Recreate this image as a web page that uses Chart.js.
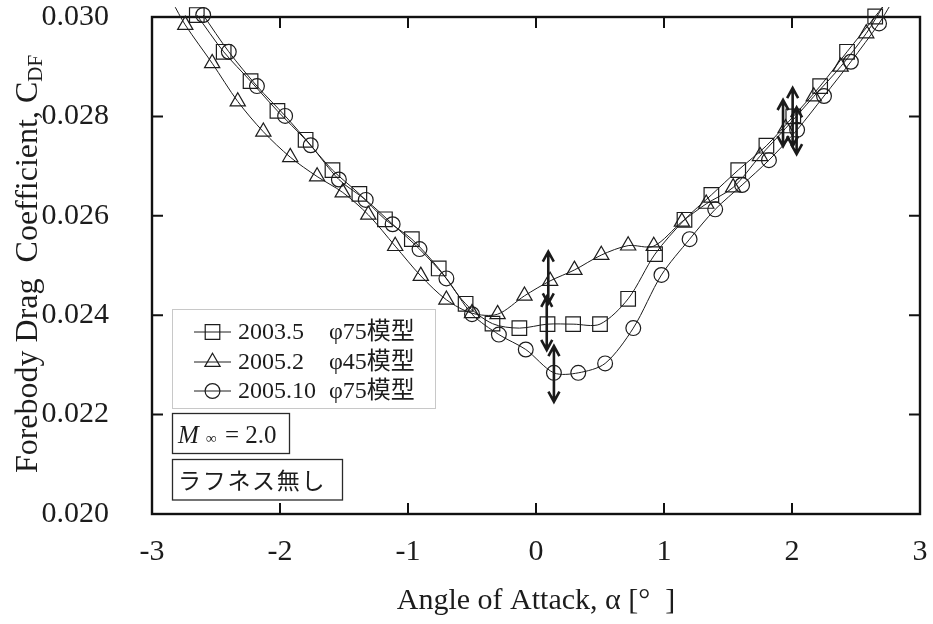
<!DOCTYPE html>
<html>
<head>
<meta charset="utf-8">
<script src="https://cdn.jsdelivr.net/npm/chart.js@4.4.1/dist/chart.umd.min.js"></script>
<style>
  html, body { margin: 0; padding: 0; background: #ffffff; }
  #wrap { width: 933px; height: 624px; }
</style>
</head>
<body>
<div id="wrap"><canvas id="cdf" width="933" height="624"></canvas></div>
<script>
// Forebody drag coefficient vs. angle of attack, M∞ = 2.0, smooth model (no roughness)

// 2003.5 campaign, φ75 model
const alpha2003 = [-2.65, -2.44, -2.23, -2.02, -1.80, -1.59, -1.38, -1.18, -0.97, -0.76, -0.55, -0.34, -0.13,
                   0.09, 0.29, 0.50, 0.72, 0.93, 1.16, 1.37, 1.58, 1.80, 2.01, 2.22, 2.43, 2.65, 2.75];
const cdf2003   = [0.03004, 0.02930, 0.02871, 0.02811, 0.02753, 0.02692, 0.02644, 0.02593, 0.02553, 0.02494, 0.02423, 0.02383, 0.02374,
                   0.02382, 0.02382, 0.02382, 0.02433, 0.02523, 0.02592, 0.02642, 0.02692, 0.02741, 0.02800, 0.02861, 0.02930, 0.03001, 0.03035];

// 2005.2 campaign, φ45 model
const alpha2005a = [-2.84, -2.74, -2.53, -2.33, -2.13, -1.92, -1.71, -1.51, -1.31, -1.10, -0.90, -0.70, -0.50, -0.30,
                    -0.09, 0.11, 0.30, 0.51, 0.72, 0.92, 1.14, 1.33, 1.54, 1.75, 1.95, 2.17, 2.38, 2.58, 2.72];
const cdf2005a   = [0.03030, 0.02984, 0.02907, 0.02830, 0.02769, 0.02718, 0.02679, 0.02647, 0.02602, 0.02539, 0.02479, 0.02431, 0.02404, 0.02402,
                    0.02439, 0.02469, 0.02491, 0.02521, 0.02540, 0.02539, 0.02588, 0.02624, 0.02657, 0.02720, 0.02776, 0.02840, 0.02900, 0.02967, 0.03025];

// 2005.10 campaign, φ75 model
const alpha2005b = [-2.60, -2.40, -2.18, -1.96, -1.76, -1.54, -1.33, -1.12, -0.91, -0.70, -0.50, -0.29, -0.08,
                    0.14, 0.33, 0.54, 0.76, 0.98, 1.20, 1.40, 1.61, 1.82, 2.04, 2.25, 2.46, 2.68, 2.77];
const cdf2005b   = [0.03004, 0.02930, 0.02861, 0.02801, 0.02742, 0.02673, 0.02632, 0.02583, 0.02533, 0.02474, 0.02402, 0.02361, 0.02331,
                    0.02284, 0.02284, 0.02303, 0.02374, 0.02481, 0.02553, 0.02613, 0.02662, 0.02712, 0.02773, 0.02841, 0.02910, 0.02987, 0.03025];

// Repeatability ranges (double arrows): angle, lower and upper CDF
const errAlpha = [0.096, 0.084, 0.140, 2.005, 1.930, 2.036];
const errLow   = [0.02424, 0.02330, 0.02226, 0.02740, 0.02740, 0.02724];
const errHigh  = [0.02528, 0.02437, 0.02338, 0.02857, 0.02833, 0.02818];

// Axes
const xTickValues = [-3, -2, -1, 0, 1, 2, 3];
const xTickLabels = ['-3', '-2', '-1', '0', '1', '2', '3'];
const yTickValues = [0.020, 0.022, 0.024, 0.026, 0.028, 0.030];
const yTickLabels = ['0.020', '0.022', '0.024', '0.026', '0.028', '0.030'];

// Legend and notes
const seriesNames  = ['2003.5', '2005.2', '2005.10'];
const seriesModels = ['φ75模型', 'φ45模型', 'φ75模型'];
const machNote = '= 2.0';
const roughNote = 'ラフネス無し';

const X_MIN = -3, X_MAX = 3, Y_MIN = 0.020, Y_MAX = 0.030;
const INK = '#1c1c1c';
const SERIF = '"Liberation Serif", "Times New Roman", serif';
const MIXED = '"Liberation Serif", "Noto Sans CJK JP", serif';
const CJK = '"Noto Sans CJK JP", sans-serif';

const markers = [
  { style: 'rect', radius: 10.3 },
  { style: 'triangle', radius: 8.8 },
  { style: 'circle', radius: 7.4 }
];

function toPoints(xs, ys) { return xs.map((x, i) => ({ x: x, y: ys[i] })); }

function makeSeries(label, xs, ys, m) {
  return {
    label: label,
    data: toPoints(xs, ys),
    borderColor: INK,
    borderWidth: 1,
    tension: 0.3,
    fill: false,
    pointStyle: m.style,
    // points lying past the top of the axis only steer the curve and carry no marker
    pointRadius: c => (c.raw && c.raw.y > Y_MAX + 0.0001 ? 0 : m.radius),
    pointBorderColor: INK,
    pointBorderWidth: 1.2,
    pointBackgroundColor: 'rgba(0,0,0,0)',
    clip: { left: 0, top: 10, right: 0, bottom: 0 }
  };
}

// Plot frame with inward ticks on all four sides
const framePlugin = {
  id: 'frame',
  beforeDatasetsDraw(chart) {
    const { ctx, chartArea: a, scales } = chart;
    ctx.save();
    ctx.strokeStyle = '#111';
    ctx.lineWidth = 2.4;
    ctx.strokeRect(a.left, a.top, a.right - a.left, a.bottom - a.top);
    ctx.lineWidth = 2;
    const len = 11;
    ctx.beginPath();
    xTickValues.forEach(v => {
      const px = scales.x.getPixelForValue(v);
      ctx.moveTo(px, a.bottom); ctx.lineTo(px, a.bottom - len);
      ctx.moveTo(px, a.top); ctx.lineTo(px, a.top + len);
    });
    yTickValues.forEach(v => {
      const py = scales.y.getPixelForValue(v);
      ctx.moveTo(a.left, py); ctx.lineTo(a.left + len, py);
      ctx.moveTo(a.right, py); ctx.lineTo(a.right - len, py);
    });
    ctx.stroke();
    ctx.restore();
  }
};

function drawDoubleArrow(ctx, x, yTop, yBot) {
  const hw = 5.5, hl = 10;
  ctx.beginPath();
  ctx.moveTo(x, yTop + 1); ctx.lineTo(x, yBot - 1);
  ctx.moveTo(x - hw, yTop + hl); ctx.lineTo(x, yTop); ctx.lineTo(x + hw, yTop + hl);
  ctx.moveTo(x - hw, yBot - hl); ctx.lineTo(x, yBot); ctx.lineTo(x + hw, yBot - hl);
  ctx.stroke();
}

const notesPlugin = {
  id: 'notes',
  afterDatasetsDraw(chart) {
    const { ctx, scales } = chart;
    const xs = scales.x, ys = scales.y;
    ctx.save();

    // repeatability arrows
    ctx.strokeStyle = '#1a1a1a';
    ctx.lineWidth = 2.6;
    ctx.lineJoin = 'miter';
    errAlpha.forEach((al, i) => {
      drawDoubleArrow(ctx, xs.getPixelForValue(al), ys.getPixelForValue(errHigh[i]), ys.getPixelForValue(errLow[i]));
    });

    // legend box
    ctx.lineWidth = 1;
    ctx.strokeStyle = '#c8c8c8';
    ctx.strokeRect(172.5, 309.5, 263, 99);
    const rowY = [332, 362, 391];
    seriesNames.forEach((name, i) => {
      const y = rowY[i];
      ctx.strokeStyle = INK;
      ctx.lineWidth = 1;
      ctx.beginPath(); ctx.moveTo(194, y); ctx.lineTo(231, y); ctx.stroke();
      ctx.fillStyle = 'rgba(0,0,0,0)';
      ctx.lineWidth = 1.2;
      Chart.helpers.drawPoint(ctx, { pointStyle: markers[i].style, radius: markers[i].radius, rotation: 0, borderWidth: 1.2 }, 212.5, y);
      ctx.fillStyle = INK;
      ctx.textBaseline = 'middle';
      ctx.textAlign = 'left';
      ctx.font = '24px ' + SERIF;
      ctx.fillText(name, 238, y + 1);
      const nameEnd = 238 + ctx.measureText(name).width;
      ctx.font = '24px ' + MIXED;
      ctx.fillText(seriesModels[i], Math.max(329, nameEnd + 3), y + 1);
    });

    // Mach number box
    ctx.strokeStyle = '#2a2a2a';
    ctx.lineWidth = 1.3;
    ctx.strokeRect(172.5, 413.5, 117, 40);
    ctx.fillStyle = INK;
    ctx.textBaseline = 'alphabetic';
    ctx.font = 'italic 25px ' + SERIF;
    ctx.fillText('M', 178, 443);
    ctx.font = '15px ' + SERIF;
    ctx.fillText('∞', 206, 443);
    ctx.font = '25px ' + SERIF;
    ctx.fillText(machNote, 225, 443);

    // roughness note box
    ctx.strokeRect(172.5, 459.5, 170, 40.5);
    ctx.font = '23px ' + CJK;
    ctx.textBaseline = 'middle';
    Array.from(roughNote).forEach((ch, i) => {
      ctx.fillText(ch, 178 + i * 24.7, 480);
    });

    // y-axis title with subscript
    ctx.translate(29, 264);
    ctx.rotate(-Math.PI / 2);
    const main = 'Forebody Drag  Coefficient, C';
    const sub = 'DF';
    ctx.font = '32px ' + SERIF;
    const wMain = ctx.measureText(main).width;
    ctx.font = '21px ' + SERIF;
    const wSub = ctx.measureText(sub).width;
    const start = -(wMain + wSub) / 2;
    ctx.textBaseline = 'middle';
    ctx.font = '32px ' + SERIF;
    ctx.fillText(main, start, 0);
    ctx.font = '21px ' + SERIF;
    ctx.fillText(sub, start + wMain, 7);
    ctx.restore();
  }
};

new Chart(document.getElementById('cdf'), {
  type: 'line',
  data: {
    datasets: [
      makeSeries(seriesNames[0], alpha2003, cdf2003, markers[0]),
      makeSeries(seriesNames[1], alpha2005a, cdf2005a, markers[1]),
      makeSeries(seriesNames[2], alpha2005b, cdf2005b, markers[2])
    ]
  },
  options: {
    responsive: false,
    animation: false,
    devicePixelRatio: 1,
    layout: { padding: { left: 0, right: 13, top: 17, bottom: 0 } },
    plugins: { legend: { display: false }, tooltip: { enabled: false } },
    scales: {
      x: {
        type: 'linear', min: X_MIN, max: X_MAX,
        grid: { display: false }, border: { display: false },
        afterBuildTicks: s => { s.ticks = xTickValues.map(v => ({ value: v })); },
        ticks: {
          autoSkip: false, maxRotation: 0, padding: 12, color: INK,
          font: { family: SERIF, size: 30 },
          callback: (v, i) => xTickLabels[i]
        },
        title: {
          display: true, text: 'Angle of Attack, α [°  ]', color: INK,
          font: { family: SERIF, size: 30, lineHeight: 1 },
          padding: { top: 0, bottom: 8 }
        },
        afterFit: s => { s.height = 110; s.paddingLeft = 0; s.paddingRight = 0; }
      },
      y: {
        type: 'linear', min: Y_MIN, max: Y_MAX,
        grid: { display: false }, border: { display: false },
        afterBuildTicks: s => { s.ticks = yTickValues.map(v => ({ value: v })); },
        ticks: {
          autoSkip: false, padding: 35, color: INK,
          font: { family: SERIF, size: 30 },
          callback: (v, i) => yTickLabels[i]
        },
        title: { display: false },
        afterFit: s => { s.width = 152; s.paddingTop = 0; s.paddingBottom = 0; }
      }
    }
  },
  plugins: [framePlugin, notesPlugin]
});
</script>
</body>
</html>
